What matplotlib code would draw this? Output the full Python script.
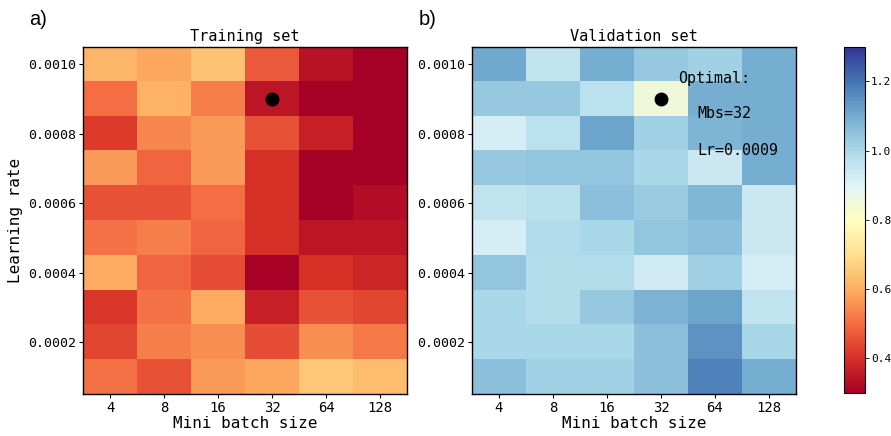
import numpy as np
import matplotlib
matplotlib.use("Agg")
import matplotlib.pyplot as plt

batch_sizes = ["4", "8", "16", "32", "64", "128"]
learning_rates = [0.0010, 0.0009, 0.0008, 0.0007, 0.0006, 0.0005, 0.0004, 0.0003, 0.0002, 0.0001]

train_loss = [
    [0.62, 0.59, 0.64, 0.47, 0.34, 0.30],
    [0.50, 0.61, 0.53, 0.35, 0.30, 0.30],
    [0.42, 0.54, 0.57, 0.46, 0.37, 0.30],
    [0.57, 0.49, 0.57, 0.40, 0.30, 0.30],
    [0.46, 0.46, 0.50, 0.40, 0.30, 0.33],
    [0.51, 0.53, 0.49, 0.40, 0.35, 0.35],
    [0.60, 0.49, 0.45, 0.31, 0.40, 0.38],
    [0.41, 0.51, 0.60, 0.37, 0.46, 0.44],
    [0.44, 0.53, 0.55, 0.45, 0.55, 0.52],
    [0.51, 0.46, 0.57, 0.59, 0.65, 0.63],
]

val_loss = [
    [1.105, 0.955, 1.095, 1.035, 1.015, 1.095],
    [1.035, 1.035, 0.965, 0.850, 1.095, 1.095],
    [0.920, 0.965, 1.115, 1.015, 1.080, 1.095],
    [1.035, 1.045, 1.045, 1.000, 0.940, 1.095],
    [0.960, 0.970, 1.055, 1.030, 1.075, 0.940],
    [0.920, 0.990, 1.000, 1.045, 1.055, 0.940],
    [1.045, 0.980, 0.980, 0.930, 1.015, 0.920],
    [1.000, 0.980, 1.035, 1.085, 1.115, 0.960],
    [1.000, 1.000, 1.000, 1.055, 1.145, 1.005],
    [1.055, 1.015, 1.015, 1.055, 1.175, 1.095],
]

yticks = [0.0010, 0.0008, 0.0006, 0.0004, 0.0002]
cbar_ticks = [0.4, 0.6, 0.8, 1.0, 1.2]
opt_batch_index = 3
opt_lr = 0.0009

vmin, vmax = 0.30, 1.30
mono = "DejaVu Sans Mono"

fig = plt.figure(figsize=(8.91, 4.36), dpi=100)
ax1 = fig.add_axes([0.0932, 0.0963, 0.3636, 0.796])
ax2 = fig.add_axes([0.5297, 0.0963, 0.3636, 0.796])
cax = fig.add_axes([0.947, 0.0986, 0.0236, 0.794])

dlr = learning_rates[0] - learning_rates[1]
extent = [-0.5, len(batch_sizes) - 0.5,
          min(learning_rates) - dlr / 2, max(learning_rates) + dlr / 2]

for ax, data, title in [(ax1, train_loss, "Training set"), (ax2, val_loss, "Validation set")]:
    im = ax.imshow(np.array(data), cmap="RdYlBu", vmin=vmin, vmax=vmax,
                   aspect="auto", extent=extent, origin="upper", interpolation="nearest")
    ax.set_xticks(range(len(batch_sizes)))
    ax.set_xticklabels(batch_sizes, family=mono, fontsize=10)
    ax.set_yticks(yticks)
    ax.set_yticklabels([f"{v:.4f}" for v in yticks], family=mono, fontsize=9.5)
    ax.set_title(title, family=mono, fontsize=11, pad=4)
    ax.set_xlabel("Mini batch size", family=mono, fontsize=11.5, labelpad=1)
    ax.plot([opt_batch_index], [opt_lr], "o", color="black", markersize=9)
    ax.tick_params(length=3, width=0.8, pad=2)
    for s in ax.spines.values():
        s.set_linewidth(1.0)

ax1.set_ylabel("Learning rate", family=mono, fontsize=11.5, labelpad=4)

ax2.text(3.31, 0.00096, "Optimal:", family=mono, fontsize=10.8, va="center", ha="left")
ax2.text(3.67, 0.000857, "Mbs=32", family=mono, fontsize=10.8, va="center", ha="left")
ax2.text(3.67, 0.000753, "Lr=0.0009", family=mono, fontsize=10.8, va="center", ha="left")

fig.text(0.033, 0.955, "a)", fontsize=14.5, family="Liberation Sans", va="center")
fig.text(0.470, 0.955, "b)", fontsize=14.5, family="Liberation Sans", va="center")

cb = fig.colorbar(im, cax=cax)
cb.set_ticks(cbar_ticks)
cb.set_ticklabels([f"{v:.1f}" for v in cbar_ticks])
for lab in cb.ax.get_yticklabels():
    lab.set_family(mono)
    lab.set_fontsize(8)
cb.ax.tick_params(length=3, width=0.6, pad=1.5)
cb.outline.set_linewidth(0.8)

fig.savefig("out.png", dpi=100)
